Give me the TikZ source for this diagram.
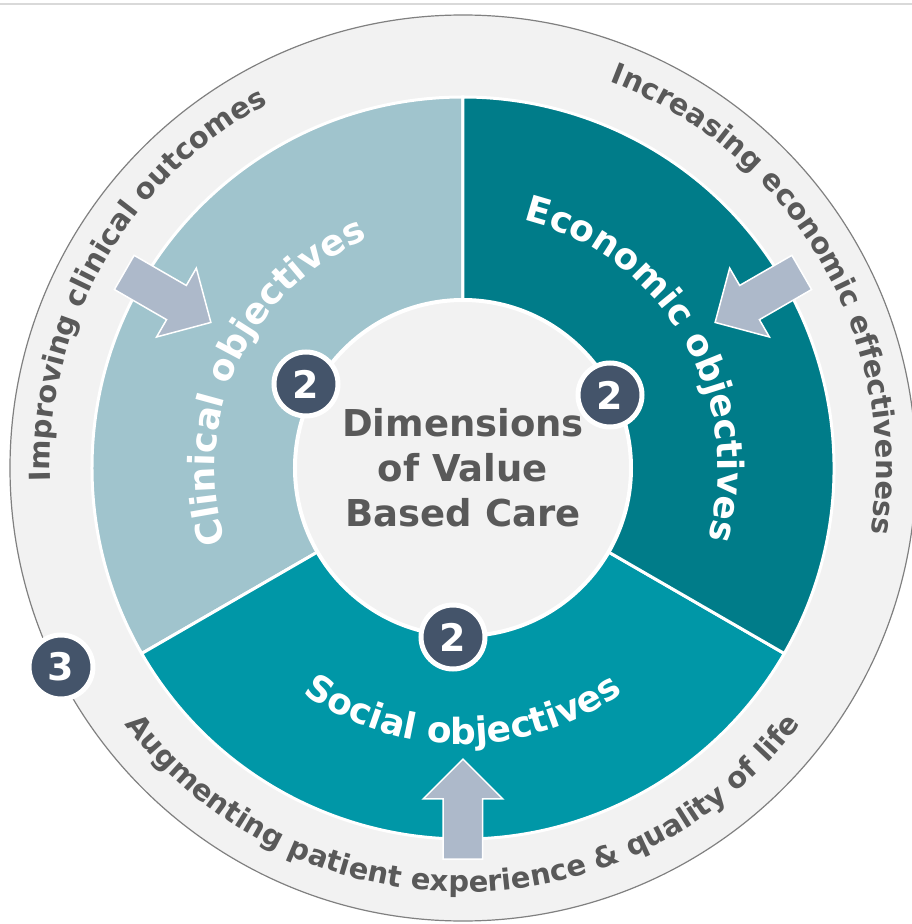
\documentclass[tikz,border=0pt]{standalone}
\usepackage{fontspec}
\setmainfont{DejaVu Sans}
\usepackage{xcolor}
\usetikzlibrary{decorations.text,shapes.arrows}

\definecolor{clinfill}{HTML}{A0C4CD}
\definecolor{econfill}{HTML}{007C89}
\definecolor{socfill}{HTML}{0097A7}
\definecolor{ringfill}{HTML}{F2F2F2}
\definecolor{ringline}{HTML}{808080}
\definecolor{arrowfill}{HTML}{ADB9CA}
\definecolor{badgefill}{HTML}{44546A}
\definecolor{textgray}{HTML}{595959}
\definecolor{topline}{HTML}{D9D9D9}

\newcommand{\outerfont}{\fontsize{29}{29}\selectfont\bfseries}
\newcommand{\sectorfont}{\fontsize{36}{36}\selectfont\bfseries}

\begin{document}
\begin{tikzpicture}[x=1pt, y=1pt,
  sector/.style={draw=white, line width=3pt},
  hubstyle/.style={circle, fill=ringfill, draw=white, line width=4pt,
                   minimum size=336pt, inner sep=0pt, align=center,
                   text=textgray, font=\fontsize{37}{45}\selectfont\bfseries},
  badge/.style={circle, fill=badgefill, draw=white, line width=5pt,
                minimum size=64pt, inner sep=0pt, text=white,
                font=\fontsize{38}{38}\selectfont\bfseries},
  pointer/.style={single arrow, fill=arrowfill, draw=white, line width=1.5pt,
                  minimum height=100pt, minimum width=78pt,
                  inner xsep=0pt, inner ysep=19pt,
                  single arrow head extend=20pt, single arrow tip angle=90},
  sectortext/.style={decorate, decoration={text along path, text align=center,
                     text color=white, text={|\sectorfont|#1}}},
  ringtext/.style={decorate, decoration={text along path, text align=center,
                   text color=textgray, text={|\outerfont|#1}}}
]
\useasboundingbox (-463,-456) rectangle (449,468);

% Top rule
\draw[topline, line width=2pt] (-463,464) -- (449,464);

% Outer ring
\draw[fill=ringfill, draw=ringline, line width=1.2pt] (0,0) circle[radius=453];

% Sectors
\draw[sector, fill=clinfill] (0,0) -- (90:371) arc[start angle=90, end angle=210, radius=371] -- cycle;
\draw[sector, fill=socfill] (0,0) -- (210:371) arc[start angle=210, end angle=330, radius=371] -- cycle;
\draw[sector, fill=econfill] (0,0) -- (-30:371) arc[start angle=-30, end angle=90, radius=371] -- cycle;

% Arrows from the ring into the sectors
\node[pointer, rotate=-30] (clinarrow) at (150:351) {};
\node[pointer, rotate=210] (econarrow) at (30:351) {};
\node[pointer, rotate=90] (socarrow) at (270:351) {};

% Hub
\node[hubstyle] (hub) at (0,0) {Dimensions\\of Value\\Based Care};

% Badges
\node[badge] (clinbadge) at (-157,84) {2};
\node[badge] (econbadge) at (147,73) {2};
\node[badge] (socbadge) at (-10,-169) {2};
\node[badge] (ringbadge) at (-402,-199) {3};

% Sector labels
\path[sectortext={Clinical objectives}] (245:248) arc[start angle=245, end angle=65, radius=248];
\path[sectortext={Economic objectives}] (120:255) arc[start angle=120, end angle=-60, radius=255];
\path[sectortext={Social objectives}] (180:276) arc[start angle=180, end angle=360, radius=276];

% Ring labels
\path[ringtext={Improving clinical outcomes}] (240:413) arc[start angle=240, end angle=60, radius=413];
\path[ringtext={Increasing economic effectiveness}] (120:413) arc[start angle=120, end angle=-60, radius=413];
\path[ringtext={Augmenting patient experience {\&} quality of life}] (170:424) arc[start angle=170, end angle=370, radius=424];

\end{tikzpicture}
\end{document}
